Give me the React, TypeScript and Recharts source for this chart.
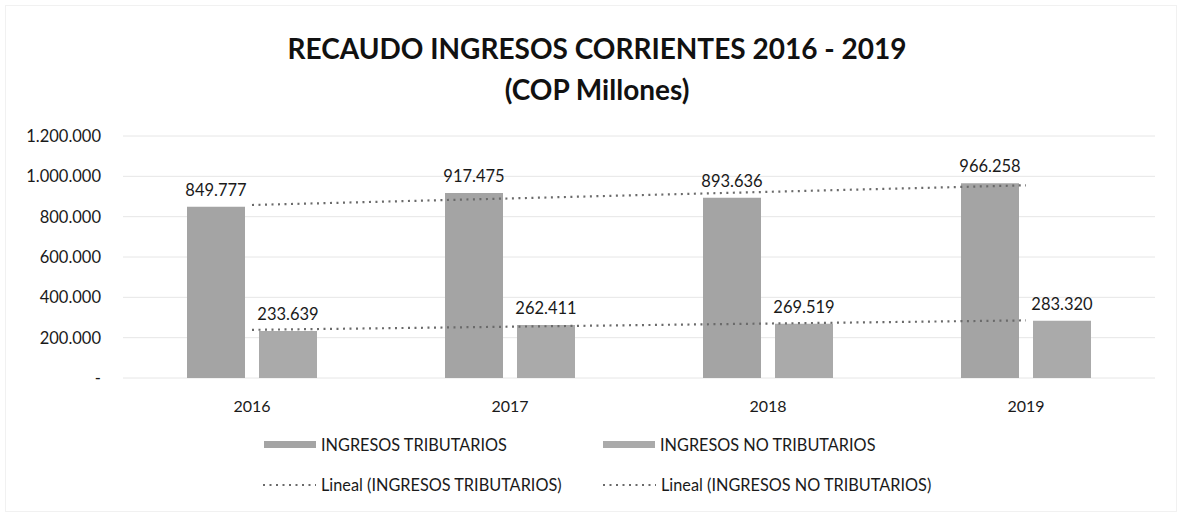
import React from 'react';
import { ComposedChart, Bar, Line, XAxis, YAxis, CartesianGrid, LabelList } from 'recharts';

const years = ['2016', '2017', '2018', '2019'];
const tributarios = [849777, 917475, 893636, 966258];
const noTributarios = [233639, 262411, 269519, 283320];
// Excel "Lineal" trendline values at each year
const trendTributarios = [857946, 890506, 923067, 955627];
const trendNoTributarios = [238800, 254415, 270030, 285645];
const yTicks = [0, 200000, 400000, 600000, 800000, 1000000, 1200000];

const data = years.map((year, i) => ({
  year,
  trib: tributarios[i],
  noTrib: noTributarios[i],
  trendTrib: trendTributarios[i],
  trendNoTrib: trendNoTributarios[i],
}));

const FONT = 'Lato, "Liberation Sans", sans-serif';
const TEXT = '#1a1a1a';
const COLOR_TRIB = '#a4a4a4';
const COLOR_NOTRIB = '#aaaaaa';
const COLOR_TREND = '#6a6a6a';

const fmt = (v: number) => {
  if (!v) return '-';
  return String(Math.round(v)).replace(/\B(?=(\d{3})+(?!\d))/g, '.');
};

const Swatch = ({ color }: { color: string }) => (
  <span style={{ display: 'inline-block', width: 52, height: 7, background: color, marginRight: 5 }} />
);

const DotLine = () => (
  <svg width={54} height={8} style={{ marginRight: 5 }}>
    <line x1={1} y1={4} x2={54} y2={4} stroke={COLOR_TREND} strokeWidth={2.2} strokeDasharray="2 4.5" />
  </svg>
);

const legendItem: React.CSSProperties = {
  position: 'absolute',
  display: 'flex',
  alignItems: 'center',
  fontSize: 16.3,
  color: TEXT,
  whiteSpace: 'nowrap',
};

export default function App() {
  return (
    <div
      style={{
        position: 'absolute',
        left: 0,
        top: 0,
        width: 1177,
        height: 512,
        background: '#fff',
        fontFamily: FONT,
        overflow: 'hidden',
      }}
    >
      <div style={{ position: 'absolute', left: 5, top: 5, right: 0, bottom: 0, border: '1px solid #f1f1f1' }} />
      <div
        style={{
          position: 'absolute',
          left: 0,
          width: 1194,
          top: 28,
          textAlign: 'center',
          fontWeight: 700,
          fontSize: 28,
          lineHeight: '41px',
          color: '#111',
        }}
      >
        <div>RECAUDO INGRESOS CORRIENTES 2016 - 2019</div>
        <div>(COP Millones)</div>
      </div>

      <div style={{ position: 'absolute', left: 0, top: 0 }}>
        <ComposedChart
          width={1177}
          height={512}
          data={data}
          margin={{ top: 136, right: 22, left: 0, bottom: 104 }}
          barSize={58}
          barGap={14}
        >
          <CartesianGrid horizontal vertical={false} stroke="#e6e6e6" />
          <XAxis
            dataKey="year"
            axisLine={false}
            tickLine={false}
            tickSize={0}
            tickMargin={23}
            height={30}
            tick={{ fill: TEXT, fontSize: 16, fontFamily: FONT }}
          />
          <YAxis
            width={123}
            domain={[0, 1200000]}
            ticks={yTicks}
            axisLine={false}
            tickLine={false}
            tickSize={0}
            tickMargin={22}
            tickFormatter={fmt}
            tick={{ fill: TEXT, fontSize: 16.5, fontFamily: FONT }}
          />
          <Line
            dataKey="trendTrib"
            stroke={COLOR_TREND}
            strokeWidth={2.2}
            strokeDasharray="2 4.5"
            dot={false}
            activeDot={false}
            isAnimationActive={false}
          />
          <Line
            dataKey="trendNoTrib"
            stroke={COLOR_TREND}
            strokeWidth={2.2}
            strokeDasharray="2 4.5"
            dot={false}
            activeDot={false}
            isAnimationActive={false}
          />
          <Bar dataKey="trib" fill={COLOR_TRIB} isAnimationActive={false}>
            <LabelList
              dataKey="trib"
              position="top"
              offset={11}
              formatter={(v: any) => fmt(Number(v))}
              style={{ fill: TEXT, fontSize: 16.5, fontFamily: FONT }}
            />
          </Bar>
          <Bar dataKey="noTrib" fill={COLOR_NOTRIB} isAnimationActive={false}>
            <LabelList
              dataKey="noTrib"
              position="top"
              offset={11}
              formatter={(v: any) => fmt(Number(v))}
              style={{ fill: TEXT, fontSize: 16.5, fontFamily: FONT }}
            />
          </Bar>
        </ComposedChart>
      </div>

      <div style={{ ...legendItem, left: 264, top: 435 }}>
        <Swatch color={COLOR_TRIB} />
        INGRESOS TRIBUTARIOS
      </div>
      <div style={{ ...legendItem, left: 603, top: 435 }}>
        <Swatch color={COLOR_NOTRIB} />
        INGRESOS NO TRIBUTARIOS
      </div>
      <div style={{ ...legendItem, left: 262, top: 475 }}>
        <DotLine />
        Lineal (INGRESOS TRIBUTARIOS)
      </div>
      <div style={{ ...legendItem, left: 602, top: 475 }}>
        <DotLine />
        Lineal (INGRESOS NO TRIBUTARIOS)
      </div>
    </div>
  );
}
